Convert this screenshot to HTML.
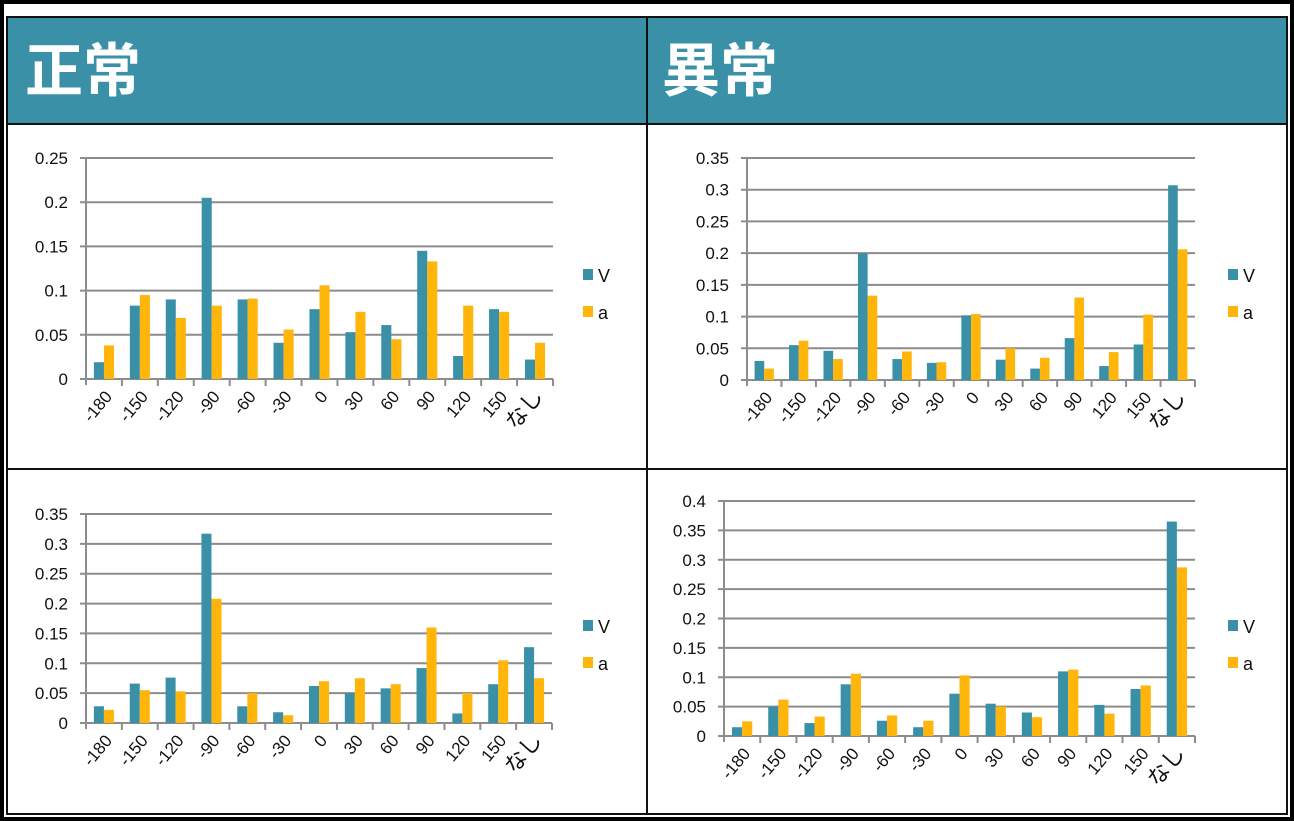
<!DOCTYPE html>
<html><head><meta charset="utf-8"><style>
body{margin:0;width:1294px;height:821px;background:#fff;overflow:hidden;font-family:"Liberation Sans","Noto Sans CJK JP",sans-serif;}
#frame{position:absolute;left:0;top:0;width:1286px;height:813px;border:4px solid #000;}
#tbl{position:absolute;left:6px;top:16px;width:1282px;height:799px;border:2px solid #111;box-sizing:border-box;}
.hdr{position:absolute;top:0;height:107px;background:#3a91a7;color:#fff;font-weight:bold;font-size:58px;font-family:"Noto Sans CJK JP",sans-serif;line-height:96px;padding-left:18px;box-sizing:border-box;}
.vl{position:absolute;background:#111;}
svg{position:absolute;left:0;top:0}
</style></head><body>
<div id="frame"></div>
<div id="tbl">
 <div class="hdr" style="left:0;width:638px;padding-left:17px">正常</div>
 <div class="hdr" style="left:640px;width:638px;padding-left:14px">異常</div>
 <div class="vl" style="left:0;top:105px;width:1278px;height:2px"></div>
 <div class="vl" style="left:638px;top:0;width:2px;height:797px"></div>
 <div class="vl" style="left:0;top:450px;width:1278px;height:2px"></div>
</div>
<svg id="s" width="1294" height="821"></svg>
<script>
const categories=["-180","-150","-120","-90","-60","-30","0","30","60","90","120","150","なし"];
const c1V=[0.019,0.083,0.090,0.205,0.090,0.041,0.079,0.053,0.061,0.145,0.026,0.079,0.022];
const c1a=[0.038,0.095,0.069,0.083,0.091,0.056,0.106,0.076,0.045,0.133,0.083,0.076,0.041];
const c2V=[0.030,0.055,0.046,0.200,0.033,0.027,0.102,0.032,0.018,0.066,0.022,0.056,0.307];
const c2a=[0.018,0.062,0.033,0.133,0.045,0.028,0.104,0.050,0.035,0.130,0.044,0.103,0.206];
const c3V=[0.028,0.066,0.076,0.317,0.028,0.018,0.062,0.050,0.058,0.092,0.016,0.065,0.127];
const c3a=[0.022,0.055,0.053,0.208,0.050,0.013,0.070,0.075,0.065,0.160,0.050,0.105,0.075];
const c4V=[0.015,0.050,0.022,0.088,0.026,0.015,0.072,0.055,0.040,0.110,0.053,0.080,0.365];
const c4a=[0.025,0.062,0.033,0.106,0.035,0.026,0.103,0.050,0.032,0.113,0.038,0.086,0.287];
const ticks1=["0","0.05","0.1","0.15","0.2","0.25"];
const ticks2=["0","0.05","0.1","0.15","0.2","0.25","0.3","0.35"];
const ticks4=["0","0.05","0.1","0.15","0.2","0.25","0.3","0.35","0.4"];
const NS="http://www.w3.org/2000/svg";
const svg=document.getElementById('s');
function mk(t,a,txt){const e=document.createElementNS(NS,t);for(const k in a)e.setAttribute(k,a[k]);if(txt!==undefined)e.textContent=txt;svg.appendChild(e);return e;}
function chart(id,x0,x1,yTop,yBot,ticks,V,A,legX,legY){
 const max=parseFloat(ticks[ticks.length-1]);
 const ys=v=>yBot-(v/max)*(yBot-yTop);
 const cw=(x1-x0)/categories.length;
 ticks.forEach(t=>{const y=ys(parseFloat(t));
  const g=mk('line',{x1:x0-6,x2:x1,y1:y,y2:y,stroke:'#8c8c8c','stroke-width':2});
  
  const l=mk('text',{x:x0-18,y:y+6,'text-anchor':'end','font-size':17,fill:'#111'},t);
  
 });
 const ax=mk('line',{x1:x0,x2:x0,y1:yTop,y2:yBot+6,stroke:'#8c8c8c','stroke-width':2});
 
 const bw=cw*0.28;
 categories.forEach((c,i)=>{
  const tx=x0+cw*(i+1);
  const tk=mk('line',{x1:tx,x2:tx,y1:yBot,y2:yBot+7,stroke:'#8c8c8c','stroke-width':2});
  
  const cx=x0+cw*(i+0.5);
  const b1=mk('rect',{x:cx-bw,y:ys(V[i]),width:bw,height:yBot-ys(V[i]),fill:'#3a91a7'});
  
  const b2=mk('rect',{x:cx,y:ys(A[i]),width:bw,height:yBot-ys(A[i]),fill:'#ffb50a'});
  
  const lx=cx+9,ly=yBot+18;
  const lb=mk('text',{x:lx,y:ly,'text-anchor':'end','font-size':c==='なし'?22:17,fill:'#111',transform:`rotate(-50 ${lx} ${ly})`},c);
  
 });
 [["V",'#3a91a7',legY],["a",'#ffb50a',legY+37]].forEach(([n,col,y])=>{
  const r=mk('rect',{x:legX,y:y-6,width:10,height:11,fill:col});
  
  const t=mk('text',{x:legX+15,y:y+7,'font-size':18,fill:'#111'},n);
  
 });
}
chart('chart-normal-top',86,553,158,379,ticks1,c1V,c1a,583,275);
chart('chart-abnormal-top',747,1195,158,380,ticks2,c2V,c2a,1228,275);
chart('chart-normal-bottom',86,552,514,723,ticks2,c3V,c3a,583,626);
chart('chart-abnormal-bottom',724,1195,501,736,ticks4,c4V,c4a,1228,626);
</script>
</body></html>
